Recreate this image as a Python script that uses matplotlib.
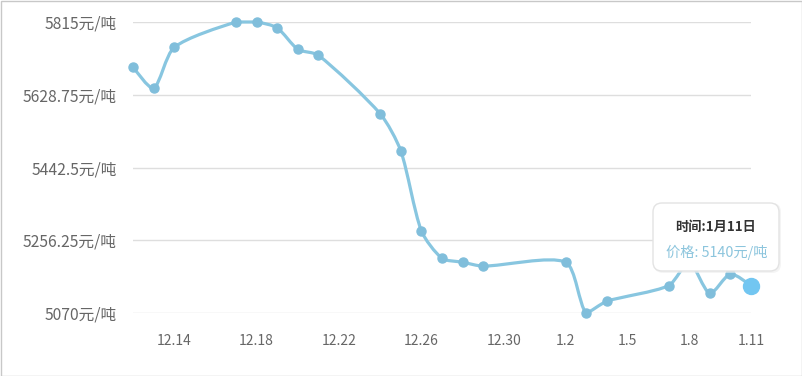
import numpy as np
import pandas as pd
import matplotlib
matplotlib.use('Agg')
import matplotlib.pyplot as plt
from matplotlib.path import Path
from matplotlib.patches import PathPatch, FancyBboxPatch, Rectangle
from matplotlib.transforms import IdentityTransform

plt.rcParams['font.family'] = ['Noto Sans CJK SC', 'DejaVu Sans']

# 数据：日期与价格（元/吨）
dates = ['2017-12-12', '2017-12-13', '2017-12-14', '2017-12-17', '2017-12-18',
         '2017-12-19', '2017-12-20', '2017-12-21', '2017-12-24', '2017-12-25',
         '2017-12-26', '2017-12-27', '2017-12-28', '2017-12-29', '2018-01-02',
         '2018-01-03', '2018-01-04', '2018-01-07', '2018-01-08', '2018-01-09',
         '2018-01-10', '2018-01-11']
prices = [5700, 5645, 5750, 5815, 5815, 5800, 5745, 5730, 5580, 5485,
          5280, 5210, 5200, 5190, 5200, 5070, 5100, 5140, 5200, 5120,
          5170, 5140]
tick_labels = ['12.14', '12.18', '12.22', '12.26', '12.30', '1.2', '1.5', '1.8', '1.11']
y_ticks = [5070, 5256.25, 5442.5, 5628.75, 5815]
y_tick_labels = ['5070元/吨', '5256.25元/吨', '5442.5元/吨', '5628.75元/吨', '5815元/吨']

d = pd.to_datetime(dates)
start = d[0]
x = np.array((d - start).days, dtype=float)
y = np.array(prices, dtype=float)
tick_pos = []
for t in tick_labels:
    m, dd = t.split('.')
    yr = 2017 if m == '12' else 2018
    tick_pos.append((pd.Timestamp(year=yr, month=int(m), day=int(dd)) - start).days)

line_c = '#88c6e0'

fig = plt.figure(figsize=(8.03, 3.76), dpi=100)
ax = fig.add_axes([133 / 803, 1 - 313 / 376, 618 / 803, 291 / 376])

# 平滑曲线（三次贝塞尔，按线段长度分配控制点，控制点限制在数据范围内）
pts = np.column_stack([x, y])
scale = np.array([20.6, 1 / 2.56])  # 近似像素比例
s = 0.25
n = len(pts)
cp_out = pts.copy()
cp_in = pts.copy()
for i in range(1, n - 1):
    v = pts[i + 1] - pts[i - 1]
    d0 = np.linalg.norm((pts[i] - pts[i - 1]) * scale)
    d1 = np.linalg.norm((pts[i + 1] - pts[i]) * scale)
    cp_in[i] = pts[i] - s * v * d0 / (d0 + d1)
    cp_out[i] = pts[i] + s * v * d1 / (d0 + d1)
lo = pts.min(axis=0)
hi = pts.max(axis=0)
cp_in = np.clip(cp_in, lo, hi)
cp_out = np.clip(cp_out, lo, hi)
verts = [pts[0]]
codes = [Path.MOVETO]
for i in range(n - 1):
    verts += [cp_out[i], cp_in[i + 1], pts[i + 1]]
    codes += [Path.CURVE4] * 3
ax.add_patch(PathPatch(Path(verts, codes), fill=False, edgecolor=line_c,
                       lw=2.3, capstyle='round', joinstyle='round', zorder=3, clip_on=False))
ax.plot(x[:-1], y[:-1], 'o', color='#80bedb', ms=6.5, zorder=4, clip_on=False)
ax.plot(x[-1], y[-1], 'o', color='#72c6f1', ms=11.5, zorder=5, clip_on=False)

ax.set_xlim(0, 30)
ax.set_ylim(5070, 5815)
ax.set_yticks(y_ticks)
ax.set_yticklabels(y_tick_labels)
ax.set_xticks(tick_pos)
ax.set_xticklabels(tick_labels)
ax.tick_params(length=0, colors='#666666')
ax.tick_params(axis='y', pad=11.5, labelsize=11.3)
ax.tick_params(axis='x', pad=15, labelsize=10)
ax.grid(axis='y', color='#dedede', lw=1)
ax.set_axisbelow(True)
for sp in ax.spines.values():
    sp.set_visible(False)

# 提示框
ident = IdentityTransform()
fig.patches.append(FancyBboxPatch((654, 376 - 273), 127, 70,
                                  boxstyle='round,pad=0,rounding_size=9',
                                  transform=ident, facecolor='#eeeeee',
                                  edgecolor='none', alpha=0.6, zorder=9))
fig.patches.append(FancyBboxPatch((653, 376 - 271), 126, 68,
                                  boxstyle='round,pad=0,rounding_size=9',
                                  transform=ident, facecolor='white',
                                  edgecolor='#e3e3e3', lw=1, zorder=10))
fig.text(716 / 803, 1 - 227 / 376, '时间:1月11日', ha='center', va='center',
         fontsize=9.5, fontweight='bold', color='#333333', zorder=11)
fig.text(717 / 803, 1 - 252 / 376, '价格: 5140元/吨', ha='center', va='center',
         fontsize=10.3, color='#8cc5dd', zorder=11)

# 外框
fig.patches.append(Rectangle((0.5 / 803, 0.5 / 376), 1 - 1 / 803, 1 - 1 / 376,
                             transform=fig.transFigure, fill=False,
                             edgecolor='#c8c8c8', lw=1))

fig.savefig('out.png', dpi=100)
